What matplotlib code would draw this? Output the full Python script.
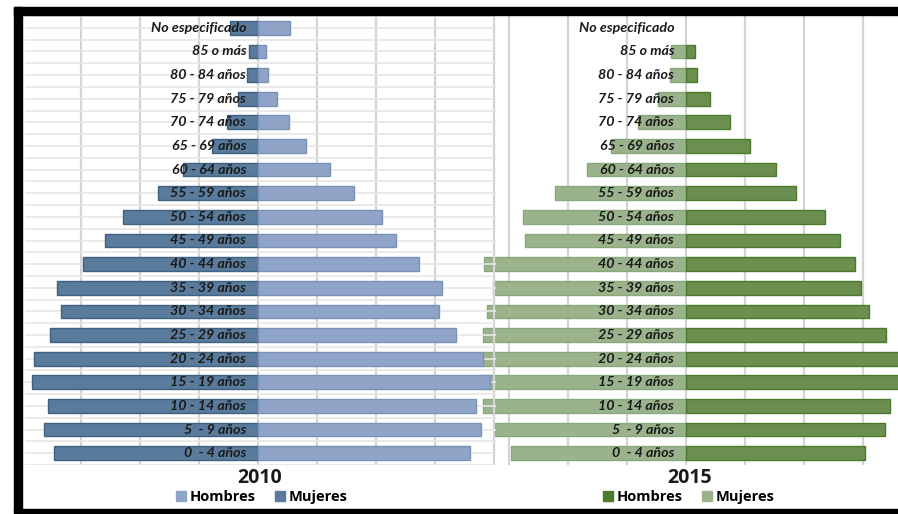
import numpy as np
import matplotlib.pyplot as plt
from matplotlib.patches import Rectangle, Patch

# age groups, top to bottom
grupos = ["No especificado", "85 o más", "80 - 84 años", "75 - 79 años", "70 - 74 años",
          "65 - 69 años", "60 - 64 años", "55 - 59 años", "50 - 54 años", "45 - 49 años",
          "40 - 44 años", "35 - 39 años", "30 - 34 años", "25 - 29 años", "20 - 24 años",
          "15 - 19 años", "10 - 14 años", "5  - 9 años", "0  - 4 años"]

# values (one gridline = 1 unit)
mujeres_2010 = [0.47, 0.15, 0.19, 0.34, 0.53, 0.78, 1.27, 1.69, 2.29, 2.59,
                2.97, 3.41, 3.34, 3.53, 3.80, 3.83, 3.56, 3.63, 3.46]
hombres_2010 = [0.54, 0.14, 0.17, 0.32, 0.53, 0.81, 1.22, 1.63, 2.10, 2.34,
                2.73, 3.12, 3.07, 3.36, 3.81, 3.93, 3.69, 3.78, 3.59]
mujeres_2015 = [0.0, 0.25, 0.27, 0.47, 0.81, 1.27, 1.68, 2.22, 2.76, 2.73,
                3.42, 3.27, 3.37, 3.44, 3.44, 3.47, 3.44, 3.24, 2.97]
hombres_2015 = [0.0, 0.15, 0.19, 0.41, 0.75, 1.08, 1.53, 1.86, 2.36, 2.61,
                2.86, 2.97, 3.10, 3.39, 3.69, 3.73, 3.46, 3.37, 3.03]

W, H = 898, 514
fig = plt.figure(figsize=(W / 100, H / 100), dpi=100)
fig.patch.set_facecolor("white")

y = np.arange(len(grupos))
lbl_font = dict(family="Lato", style="italic", weight="bold", fontsize=10.3, color="#1a1a1a")


def px_axes(left, top, right, bottom):
    return [left / W, 1 - bottom / H, (right - left) / W, (bottom - top) / H]


def pyramid(ax, muj, hom, c_muj, e_muj, c_hom, e_hom, xlim, hlines):
    ax.set_facecolor("none")
    ax.set_xlim(*xlim)
    ax.set_ylim(len(grupos) - 0.5, -0.5)
    for k in range(int(np.ceil(xlim[0])), int(np.floor(xlim[1])) + 1):
        ax.axvline(k, color="#d4d4d4", lw=1.6, zorder=0)
    if hlines:
        for yy in np.arange(-0.5, len(grupos), 0.5):
            ax.axhline(yy, color="#e6e6e6", lw=1.2, zorder=0)
    muj = np.array(muj)
    hom = np.array(hom)
    ax.barh(y, -muj, height=0.58, color=c_muj, edgecolor=e_muj,
            lw=np.where(muj > 0, 1, 0), zorder=2)
    ax.barh(y, hom, height=0.58, color=c_hom, edgecolor=e_hom,
            lw=np.where(hom > 0, 1, 0), zorder=2)
    for yi, g in zip(y, grupos):
        ax.text(-0.2, yi, g, ha="right", va="center", zorder=5, **lbl_font)
    ax.set_xticks([])
    ax.set_yticks([])
    for s in ax.spines.values():
        s.set_visible(False)


# 2015 first, the 2010 chart sits on top of it
ax15 = fig.add_axes(px_axes(480, 16, 898, 465))
pyramid(ax15, mujeres_2015, hombres_2015, "#9ab38c", "#8aa67b", "#6b8f4f", "#4b7a2c",
        ((480 - 686) / 59, (898 - 686) / 59), False)
ax10 = fig.add_axes(px_axes(25, 16, 496, 465))
pyramid(ax10, mujeres_2010, hombres_2010, "#5a7b9b", "#3f6283", "#8fa4c6", "#7a91b8",
        ((25 - 258) / 59, (496 - 258) / 59), True)

# titles and legends
fig.text(260 / W, 1 - 478 / H, "2010", ha="center", va="center", fontsize=14,
         weight="bold", family="Open Sans", color="#1a1a1a")
fig.text(690 / W, 1 - 478 / H, "2015", ha="center", va="center", fontsize=14,
         weight="bold", family="Open Sans", color="#1a1a1a")

leg_kw = dict(loc="center", ncol=2, frameon=False, handlelength=0.65, handleheight=0.65,
              handletextpad=0.3, columnspacing=1.3,
              prop=dict(family="Open Sans", weight="bold", size=10.5))
fig.legend(handles=[Patch(color="#8fa4c6", label="Hombres"), Patch(color="#5a7b9b", label="Mujeres")],
           bbox_to_anchor=(262 / W, 1 - 497 / H), **leg_kw)
fig.legend(handles=[Patch(color="#4b7a2c", label="Hombres"), Patch(color="#9ab38c", label="Mujeres")],
           bbox_to_anchor=(689 / W, 1 - 497 / H), **leg_kw)

# black frame of the screenshot
for (x0, y0, x1, y1) in [(14, 7, W, 15), (14, 7, 22, 511), (14, 509, W, H)]:
    fig.add_artist(Rectangle((x0 / W, 1 - y1 / H), (x1 - x0) / W, (y1 - y0) / H,
                             transform=fig.transFigure, color="black", zorder=10))

fig.savefig("out.png", dpi=100)
